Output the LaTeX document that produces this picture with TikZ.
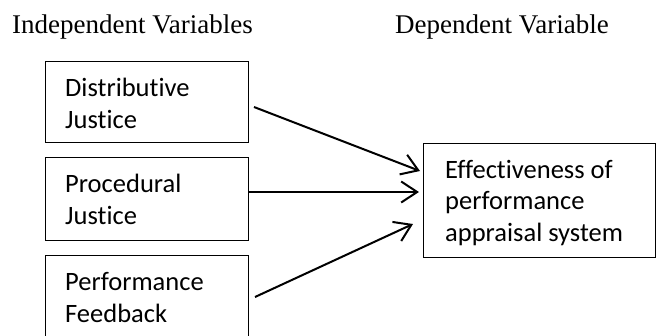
\documentclass[tikz,border=0pt]{standalone}
\usepackage{fontspec}
\setmainfont{Liberation Serif}
\newfontfamily\boxfont[Ligatures=NoCommon]{Carlito}
\usetikzlibrary{arrows.meta,calc}
\tikzset{
  varbox/.style={draw, line width=1.3pt, inner sep=0pt, anchor=north west},
  boxtext/.style={anchor=base west, align=left, inner sep=0pt, font=\boxfont\fontsize{26.5}{31.5}\selectfont},
  headtext/.style={anchor=base west, inner sep=0pt, font=\fontsize{27}{30}\selectfont},
  conn/.style={line width=2pt, -{Straight Barb[length=16pt,width=21pt,line width=2pt]}}
}
\begin{document}
\begin{tikzpicture}[x=1pt,y=-1pt]
\useasboundingbox (0,0) rectangle (656,335);
\clip (0,0) rectangle (656,335);
\node[headtext] (hi) at (12,33) {Independent Variables};
\node[headtext] (hd) at (395,33) {Dependent Variable};

\node[varbox, minimum width=203pt, minimum height=81pt] (dj) at (45,61) {};
\node[varbox, minimum width=203pt, minimum height=83pt] (pj) at (45,157) {};
\node[varbox, minimum width=203pt, minimum height=84pt] (pf) at (45,255) {};
\node[varbox, minimum width=232pt, minimum height=114pt] (ef) at (423,143) {};

\node[boxtext] (tdj) at ($(dj.north west)+(20,67)$) {Distributive\\Justice};
\node[boxtext] (tpj) at ($(pj.north west)+(20,67)$) {Procedural\\Justice};
\node[boxtext] (tpf) at ($(pf.north west)+(20,67)$) {Performance\\Feedback};
\node[boxtext] (tef) at ($(ef.north west)+(22,98)$) {Effectiveness of\\performance\\appraisal system};

\coordinate (s1) at (254,107);
\coordinate (e1) at (420,171);
\coordinate (s2) at (248,192);
\coordinate (e2) at (419,192);
\coordinate (s3) at (255,297);
\coordinate (e3) at (413,224);
\draw[conn] (s1) -- (e1);
\draw[conn] (s2) -- (e2);
\draw[conn] (s3) -- (e3);
\end{tikzpicture}
\end{document}
